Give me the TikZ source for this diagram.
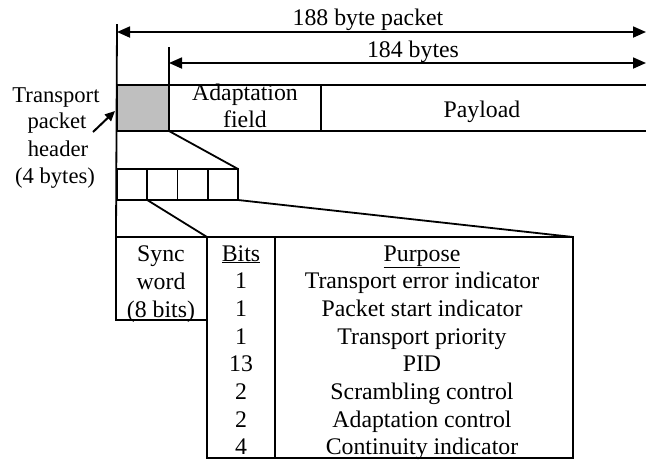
\documentclass[tikz,border=0pt]{standalone}
\usepackage{fontspec}
\setmainfont{Liberation Serif}
\usetikzlibrary{arrows.meta}
\begin{document}
\begin{tikzpicture}[x=1pt,y=-1pt,line width=1.8pt,
  every node/.style={inner sep=0pt,outer sep=0pt,font=\fontsize{23.8}{28}\selectfont},
  cell/.style={draw,anchor=north west,minimum width=#1},
  lbl/.style={anchor=base},
  side/.style={anchor=base,font=\fontsize{22.6}{27}\selectfont},
  dim/.style={{Triangle[length=13pt,width=11pt]}-{Triangle[length=13pt,width=11pt]}},
  pointer/.style={-{Triangle[length=10pt,width=9pt]}}]
\useasboundingbox (0,0) rectangle (646,459);

% packet row
\node[cell=52pt,minimum height=46pt,fill=black!25] (hdr) at (117,85) {};
\node[cell=152pt,minimum height=46pt] (adapt) at (169,85) {};
\coordinate (pend) at (646,85);
\coordinate (pendb) at (646,131);
\draw (adapt.north east) -- (pend);
\draw (adapt.south east) -- (pendb);
\node[lbl] (adaptt1) at (245,100) {Adaptation};
\node[lbl] (adaptt2) at (245,127) {field};
\node[lbl] (payload) at (482,117) {Payload};

% dimension lines
\coordinate (top) at (117,24);
\coordinate (top2) at (169,47);
\coordinate (a1l) at (117,32);
\coordinate (a1r) at (646,32);
\coordinate (a2l) at (169,63);
\coordinate (a2r) at (646,63);
\draw (top2) -- (adapt.north west);
\draw[dim] (a1l) -- (a1r);
\draw[dim] (a2l) -- (a2r);
\node[lbl] (len188) at (368,25) {188 byte packet};
\node[lbl] (len184) at (413,57) {184 bytes};

% header label
\node[side] (t1) at (56,102) {Transport};
\node[side] (t2) at (57,128) {packet};
\node[side] (t3) at (58,156) {header};
\node[side] (t4) at (55,183) {(4 bytes)};
\coordinate (ptail) at (93,132);
\coordinate (phead) at (115,111);
\draw[pointer,line width=2pt] (ptail) -- (phead);

% four header bytes
\node[cell=30.25pt,minimum height=31pt] (b1) at (117,169) {};
\node[cell=30.25pt,minimum height=31pt] (b2) at (147.25,169) {};
\node[cell=30.25pt,minimum height=31pt] (b3) at (177.5,169) {};
\node[cell=30.25pt,minimum height=31pt] (b4) at (207.75,169) {};

% header fields
\node[cell=91pt,minimum height=83pt] (sync) at (116,237) {};
\node[cell=68pt,minimum height=221pt] (bits) at (207,237) {};
\node[cell=298pt,minimum height=221pt] (purpose) at (275,237) {};

% expansion lines
\draw (top) -- (sync.north west);
\draw (hdr.south east) -- (b4.north east);
\draw (b4.south east) -- (purpose.north east);
\draw (b1.south east) -- (bits.north west);

% table text
\node[lbl] (s1) at (161,261) {Sync};
\node[lbl] (s2) at (161,289) {word};
\node[lbl] (s3) at (161,317) {(8 bits)};

\foreach \v/\p [count=\i from 0] in {\underline{Bits}/\underline{Purpose},
  1/Transport error indicator, 1/Packet start indicator, 1/Transport priority,
  13/PID, 2/Scrambling control, 2/Adaptation control, 4/Continuity indicator}{
  \node[lbl] (bv\i) at (241,261+27.7*\i) {\v};
  \node[lbl] (pv\i) at (422,261+27.7*\i) {\p};
}
\end{tikzpicture}
\end{document}
